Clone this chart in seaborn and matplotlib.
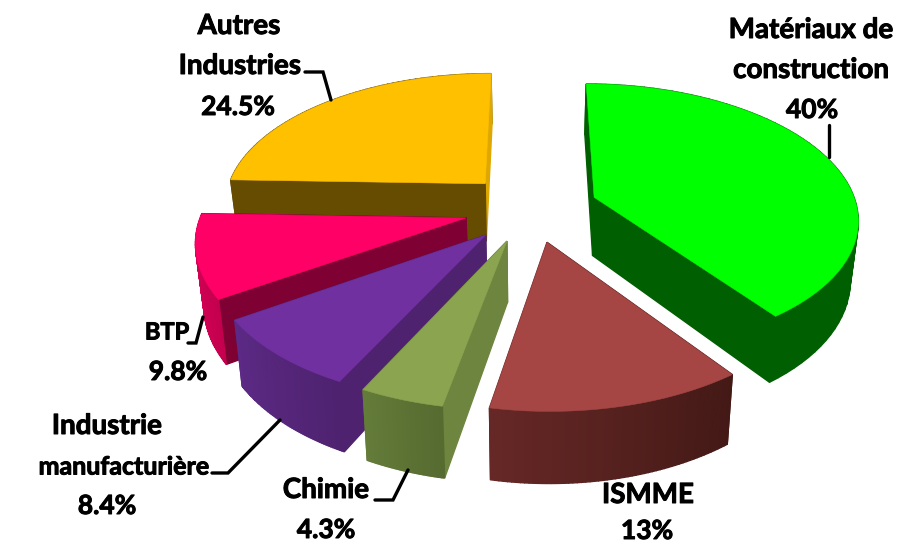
# plot.py
import numpy as np
import seaborn as sns
import matplotlib.pyplot as plt
import matplotlib.patheffects as pe

# Data
categories = ["Matériaux de construction", "ISMME", "Chimie",
              "Industrie manufacturière", "BTP", "Autres industries"]
shares = [40, 13, 4.3, 8.4, 9.8, 24.5]
share_labels = ["40%", "13%", "4.3%", "8.4%", "9.8%", "24.5%"]

# Colours: top face, start face, end face, rim (low angle -> high angle)
top_colors = ["#00FF00", "#A54644", "#8AA44F", "#7030A0", "#FF0066", "#FFC000"]
start_colors = ["#005F00", "#431916", "#6E853F", "#4F2270", "#7F0033", "#664C00"]
end_colors = ["#005F00", "#641F1F", "#5F7335", "#4F2270", "#7F0033", "#DFA800"]
rim_low = ["#005F00", "#431916", "#566B30", "#4F2270", "#C4004E", "#664C00"]
rim_high = ["#005F00", "#662826", "#647C3A", "#5C2A85", "#E6005C", "#664C00"]

# Explode offsets of each slice, in pie radii
shift_x = [0.239, 0.055, -0.092, -0.171, -0.248, -0.183]
shift_y = [-0.207, 0.123, 0.115, 0.073, -0.052, -0.313]

# Fake 3D camera
CX, CY = 532, 225
RX, RY = 268, 138
PERSP = 0.15
DEPTH = 60
PULL = 0.975


def project(wx, wy, lower=False):
    s = 1 / (1 - PERSP * wy)
    x = CX + RX * wx * s
    y = CY + RY * wy * s
    if lower:
        x = CX + (x - CX) * PULL
        y = y + DEPTH * s
    return x, y


def draw_slice(ax, i, a0, a1):
    theta = np.radians(np.linspace(a0, a1, 60))
    wx = shift_x[i] + np.sin(theta)
    wy = shift_y[i] - np.cos(theta)
    ox, oy = shift_x[i], shift_y[i]

    faces = []
    # the two flat cut faces
    for k, col in ((0, start_colors[i]), (-1, end_colors[i])):
        tx, ty = project(np.array([ox, wx[k]]), np.array([oy, wy[k]]))
        bx, by = project(np.array([ox, wx[k]]), np.array([oy, wy[k]]), lower=True)
        faces.append((ty.mean(), np.r_[tx, bx[::-1]], np.r_[ty, by[::-1]], col))
    # curved rim, in strips so the shade can run along it
    rim = sns.blend_palette([rim_low[i], rim_high[i]], len(theta) - 1)
    tx, ty = project(wx, wy)
    bx, by = project(wx, wy, lower=True)
    for j in range(len(theta) - 1):
        faces.append((ty[j:j + 2].mean(),
                      np.r_[tx[j:j + 2], bx[j:j + 2][::-1]],
                      np.r_[ty[j:j + 2], by[j:j + 2][::-1]], rim[j]))

    for _, fx, fy, col in sorted(faces, key=lambda f: f[0]):
        ax.fill(fx, fy, color=col, lw=1.0)

    px, py = project(np.r_[ox, wx], np.r_[oy, wy])
    ax.fill(px, py, color=top_colors[i], lw=0.4)


sns.set_theme(style="white")
plt.rcParams["font.family"] = ["Lato", "DejaVu Sans"]

fig = plt.figure(figsize=(8.98, 5.43), dpi=100)
ax = fig.add_axes([0, 0, 1, 1])
ax.set_xlim(0, 898)
ax.set_ylim(543, 0)
ax.axis("off")

# angles clockwise from 12 o'clock
edges = np.r_[0, np.cumsum(shares)] / np.sum(shares) * 360
for i in [5, 0, 4, 3, 2, 1]:
    draw_slice(ax, i, edges[i], edges[i + 1])

# Leader lines
leaders = [
    ([829, 829], [125, 157]),
    ([305, 323, 331], [72, 72, 100]),
    ([188, 196, 203], [343, 343, 317]),
    ([212, 228, 280], [473, 473, 420]),
    ([375, 393, 408], [500, 500, 470]),
]
for lx, ly in leaders:
    ax.plot(lx, ly, color="black", lw=2.4, solid_joinstyle="miter")

# Labels, one text per line as they don't share a centre
label_lines = [
    ("Matériaux de", 811, 30, 20), ("construction", 811, 70, 20), (share_labels[0], 812, 110, 19),
    ("ISMME", 648, 495, 20), (share_labels[1], 647, 531, 19),
    ("Chimie", 326, 490, 20), (share_labels[2], 326, 530, 19),
    ("Industrie", 107, 426, 20), ("manufacturière", 124, 467, 18), (share_labels[3], 107, 506, 19),
    ("BTP", 167, 332, 17), (share_labels[4], 178, 372, 19),
    ("Autres", 239, 26, 20), ("Industries", 240, 66, 20), (share_labels[5], 238, 107, 19),
]
for txt, x, y, size in label_lines:
    ax.text(x, y, txt, ha="center", va="center", fontsize=size, fontweight="bold",
            color="black", path_effects=[pe.withStroke(linewidth=0.7, foreground="black")])

fig.savefig("out.png", dpi=100)
plt.close(fig)
